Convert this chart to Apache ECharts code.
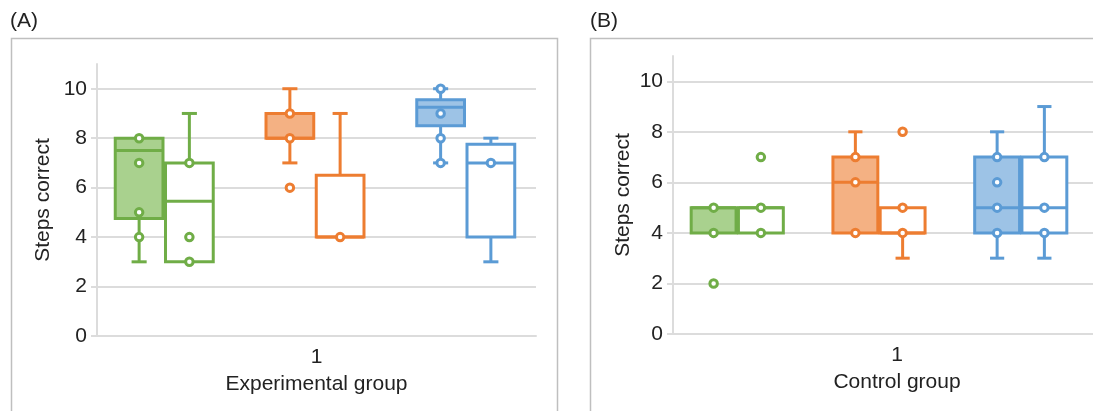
<!DOCTYPE html>
<html>
<head>
<meta charset="utf-8">
<title>Steps correct</title>
<script src="https://cdn.jsdelivr.net/npm/echarts@6/dist/echarts.min.js"></script>
<style>
  html, body { margin: 0; padding: 0; background: #fff; }
  #chart { width: 1093px; height: 411px; }
</style>
</head>
<body>
<div id="chart"></div>
<script>
  // box slots in each panel, the gap slots only keep the colour groups apart
  const slots = ['green', 'green-open', 'gap1', 'orange', 'orange-open', 'gap2', 'blue', 'blue-open'];
  const yTicks = [0, 2, 4, 6, 8, 10];

  // [min, Q1, median, Q3, max] per slot, null = empty slot
  const expBoxes = [
    [3, 4.75, 7.5, 8, 8],
    [3, 3, 5.45, 7, 9],
    null,
    [7, 8, 8, 9, 10],
    [4, 4, 4, 6.5, 9],
    null,
    [7, 8.5, 9.25, 9.55, 10],
    [3, 4, 7, 7.75, 8]
  ];
  const expPoints = [
    [8, 7, 5, 4],
    [7, 4, 3],
    [],
    [9, 8, 6],
    [4],
    [],
    [10, 9, 8, 7],
    [7]
  ];

  const ctrlBoxes = [
    [4, 4, 5, 5, 5],
    [4, 4, 5, 5, 5],
    null,
    [4, 4, 6, 7, 8],
    [3, 4, 4, 5, 5],
    null,
    [3, 4, 5, 7, 8],
    [3, 4, 5, 7, 9]
  ];
  const ctrlPoints = [
    [5, 4, 2],
    [7, 5, 4],
    [],
    [7, 6, 4],
    [8, 5, 4],
    [],
    [7, 6, 5, 4],
    [7, 5, 4]
  ];

  const strokes = ['#70ad47', '#70ad47', null, '#ed7d31', '#ed7d31', null, '#5b9bd5', '#5b9bd5'];
  const fills = ['#a9d18e', '#ffffff', null, '#f4b183', '#ffffff', null, '#9dc3e6', '#ffffff'];
  const textColor = '#222222';
  const gridColor = '#dcdcdc';
  const font = 'Liberation Sans, Arial, sans-serif';
  const fontSize = 21;

  function renderBox(params, api) {
    const i = api.value(0);
    const band = api.size([1, 0])[0];
    const w = band * 0.95;
    const cap = band * 0.3;
    const p = api.coord([i, api.value(1)]);
    const cx = p[0];
    const yMin = p[1];
    const yQ1 = api.coord([i, api.value(2)])[1];
    const yMed = api.coord([i, api.value(3)])[1];
    const yQ3 = api.coord([i, api.value(4)])[1];
    const yMax = api.coord([i, api.value(5)])[1];
    const stroke = strokes[i];
    const line = (x1, y1, x2, y2) => ({
      type: 'line',
      shape: { x1, y1, x2, y2 },
      style: { stroke, lineWidth: 3 }
    });
    const children = [];
    if (yMin - yQ1 > 1) {
      children.push(line(cx, yQ1, cx, yMin), line(cx - cap / 2, yMin, cx + cap / 2, yMin));
    }
    if (yQ3 - yMax > 1) {
      children.push(line(cx, yQ3, cx, yMax), line(cx - cap / 2, yMax, cx + cap / 2, yMax));
    }
    children.push({
      type: 'rect',
      shape: { x: cx - w / 2, y: yQ3, width: w, height: yQ1 - yQ3 },
      style: { fill: fills[i], stroke, lineWidth: 3 }
    });
    children.push(line(cx - w / 2, yMed, cx + w / 2, yMed));
    return { type: 'group', children };
  }

  const boxData = (boxes) =>
    boxes.map((b, i) => (b ? [i].concat(b) : null)).filter(Boolean);

  const pointData = (points) =>
    points.flatMap((vals, i) =>
      vals.map((v) => ({ value: [i, v], itemStyle: { borderColor: strokes[i] } }))
    );

  function shownYAxis(gridIndex, nameGap) {
    return {
      type: 'value',
      gridIndex,
      min: 0,
      max: 11,
      interval: 2,
      name: 'Steps correct',
      nameLocation: 'middle',
      nameRotate: 90,
      nameGap,
      nameTextStyle: { fontSize, color: textColor, fontFamily: font },
      axisLine: { show: true, lineStyle: { color: gridColor, width: 2 } },
      axisTick: { show: true, length: 6, customValues: yTicks, lineStyle: { color: gridColor, width: 2 } },
      axisLabel: {
        customValues: yTicks,
        fontSize,
        color: textColor,
        fontFamily: font,
        margin: 10,
        formatter: (v) => (v > 10 ? '' : v)
      },
      splitLine: {
        lineStyle: {
          color: [gridColor, gridColor, gridColor, gridColor, gridColor, gridColor, 'rgba(0,0,0,0)'],
          width: 2
        }
      }
    };
  }

  function hiddenYAxis(gridIndex) {
    return {
      type: 'value', gridIndex, min: 0, max: 11, show: false,
      splitLine: { show: false }, axisLabel: { show: false }
    };
  }

  function shownXAxis(gridIndex, name) {
    return {
      type: 'category',
      gridIndex,
      data: ['1'],
      name,
      nameLocation: 'middle',
      nameGap: 38,
      nameTextStyle: { fontSize, color: textColor, fontFamily: font },
      axisLine: { lineStyle: { color: gridColor, width: 2 } },
      axisTick: { show: false },
      axisLabel: { fontSize, color: textColor, fontFamily: font, margin: 11 }
    };
  }

  function hiddenXAxis(gridIndex) {
    return { type: 'category', gridIndex, data: slots, show: false, splitLine: { show: false } };
  }

  function panelSeries(axisIndex, boxes, points) {
    return [
      {
        type: 'custom',
        xAxisIndex: axisIndex,
        yAxisIndex: axisIndex,
        renderItem: renderBox,
        encode: { x: 0, y: [1, 2, 3, 4, 5] },
        data: boxData(boxes),
        z: 2
      },
      {
        type: 'scatter',
        xAxisIndex: axisIndex,
        yAxisIndex: axisIndex,
        symbol: 'circle',
        symbolSize: 7.5,
        itemStyle: { color: '#ffffff', borderWidth: 3, opacity: 1 },
        data: pointData(points),
        z: 3
      }
    ];
  }

  const chart = echarts.init(document.getElementById('chart'));

  chart.setOption({
    animation: false,
    textStyle: { fontFamily: font },
    grid: [
      { left: 97, right: 557, top: 64, bottom: 75, outerBoundsMode: 'none' },
      { left: 114, right: 577, top: 64, bottom: 75, outerBoundsMode: 'none' },
      { left: 673, width: 448, top: 56, bottom: 77, outerBoundsMode: 'none' },
      { left: 690, right: 25, top: 56, bottom: 77, outerBoundsMode: 'none' }
    ],
    xAxis: [
      shownXAxis(0, 'Experimental group'),
      hiddenXAxis(1),
      shownXAxis(2, 'Control group'),
      hiddenXAxis(3)
    ],
    yAxis: [
      shownYAxis(0, 43),
      hiddenYAxis(1),
      shownYAxis(2, 39),
      hiddenYAxis(3)
    ],
    graphic: [
      {
        type: 'rect', silent: true,
        shape: { x: 11.5, y: 38.5, width: 546, height: 400 },
        style: { fill: 'none', stroke: '#bfbfbf', lineWidth: 1.5 }
      },
      {
        type: 'rect', silent: true,
        shape: { x: 590.5, y: 38.5, width: 540, height: 400 },
        style: { fill: 'none', stroke: '#bfbfbf', lineWidth: 1.5 }
      },
      { type: 'text', left: 10, top: 11, style: { text: '(A)', fontSize, fill: textColor, fontFamily: font } },
      { type: 'text', left: 590, top: 11, style: { text: '(B)', fontSize, fill: textColor, fontFamily: font } }
    ],
    series: [].concat(
      panelSeries(1, expBoxes, expPoints),
      panelSeries(3, ctrlBoxes, ctrlPoints)
    )
  });
</script>
</body>
</html>
